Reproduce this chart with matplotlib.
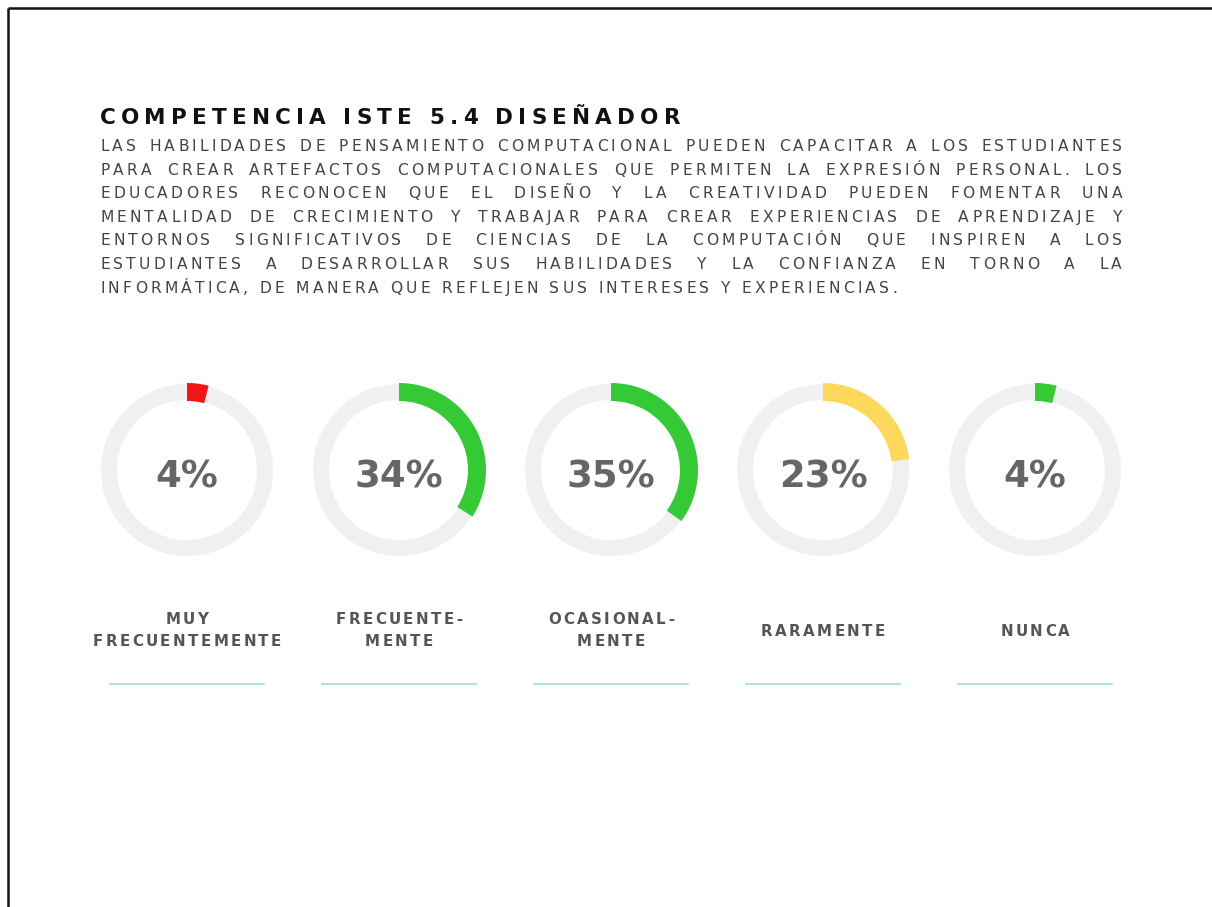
import numpy as np
import matplotlib
matplotlib.use("Agg")
import matplotlib.pyplot as plt
from matplotlib.patches import Wedge
from matplotlib.font_manager import FontProperties

# canvas size in pixels (dpi 100)
W, H = 1212, 907

title = "COMPETENCIA ISTE 5.4 DISEÑADOR"
body_lines = [
    "LAS HABILIDADES DE PENSAMIENTO COMPUTACIONAL PUEDEN CAPACITAR A LOS ESTUDIANTES",
    "PARA CREAR ARTEFACTOS COMPUTACIONALES QUE PERMITEN LA EXPRESIÓN PERSONAL. LOS",
    "EDUCADORES RECONOCEN QUE EL DISEÑO Y LA CREATIVIDAD PUEDEN FOMENTAR UNA",
    "MENTALIDAD DE CRECIMIENTO Y TRABAJAR PARA CREAR EXPERIENCIAS DE APRENDIZAJE Y",
    "ENTORNOS SIGNIFICATIVOS DE CIENCIAS DE LA COMPUTACIÓN QUE INSPIREN A LOS",
    "ESTUDIANTES A DESARROLLAR SUS HABILIDADES Y LA CONFIANZA EN TORNO A LA",
    "INFORMÁTICA, DE MANERA QUE REFLEJEN SUS INTERESES Y EXPERIENCIAS.",
]
categories = ["MUY\nFRECUENTEMENTE", "FRECUENTE-\nMENTE", "OCASIONAL-\nMENTE", "RARAMENTE", "NUNCA"]
percentages = [4, 34, 35, 23, 4]
arc_colors = ["#f01616", "#36c936", "#36c936", "#fcd95c", "#36c936"]

fig = plt.figure(figsize=(W / 100, H / 100), dpi=100)
ax = fig.add_axes([0, 0, 1, 1])
ax.set_xlim(0, W)
ax.set_ylim(H, 0)
ax.axis("off")
renderer = fig.canvas.get_renderer()


def font(size_px, weight="normal", family="DejaVu Sans"):
    return FontProperties(family=family, weight=weight, size=size_px * 72 / 100)


def ink(s, fp):
    return renderer.get_text_width_height_descent(s, fp, ismath=False)[0]


# advance widths: measure the char between two H's
def widths(s, fp):
    base = ink("HH", fp)
    return [ink("H" + ch + "H", fp) - base for ch in s]


def line_width(s, fp, tracking, extra=0.0):
    return sum(widths(s, fp)) + tracking * (len(s) - 1) + extra * s.count(" ")


# letter-spaced text, drawn char by char
def draw_tracked(x, y, s, fp, tracking, color, align="left", extra=0.0):
    w = widths(s, fp)
    total = line_width(s, fp, tracking, extra)
    if align == "center":
        x = x - total / 2
    for ch, cw in zip(s, w):
        if ch != " ":
            ax.text(x, y, ch, fontproperties=fp, color=color, ha="left", va="baseline")
        x += cw + tracking + (extra if ch == " " else 0)


def fit_tracking(s, fp, target):
    return (target - sum(widths(s, fp))) / (len(s) - 1)


# page frame (top and left edges only)
ax.plot([7.5, W], [7.5, 7.5], color="#111111", lw=1.8, solid_capstyle="butt")
ax.plot([7.5, 7.5], [7.5, H], color="#111111", lw=1.8, solid_capstyle="butt")

# title
fp_title = font(21.5, "bold")
draw_tracked(100, 124, title, fp_title, fit_tracking(title, fp_title, 580), "#111111")

# justified paragraph
fp_body = font(15.5)
left, right = 100, 1122
body_track = fit_tracking(body_lines[-1], fp_body, 797)
for i, line in enumerate(body_lines):
    y = 151 + i * 23.6
    if i < len(body_lines) - 1:
        nat = line_width(line, fp_body, body_track)
        extra = (right - left - nat) / line.count(" ")
    else:
        extra = 0.0
    draw_tracked(left, y, line, fp_body, body_track, "#444444", extra=extra)

# donut rings
centers = np.linspace(187, 1035, len(percentages))
cy = 470
r_out, ring_w = 86, 16
fp_pct = font(37, "bold")
fp_lab = font(15, "bold")
for cx, pct, col, cat in zip(centers, percentages, arc_colors, categories):
    ax.add_patch(Wedge((cx, cy), r_out, 0, 360, width=ring_w, color="#f0f0f0", lw=0))
    ax.add_patch(Wedge((cx, cy), r_out + 1, -90, -90 + 360 * pct / 100,
                       width=ring_w + 2, color=col, lw=0))
    ax.text(cx, 487, f"{pct}%", fontproperties=fp_pct, color="#666666",
            ha="center", va="baseline")

    parts = cat.split("\n")
    if len(parts) == 2:
        ys = [624, 646]
    else:
        ys = [636]
    for yy, part in zip(ys, parts):
        draw_tracked(cx, yy, part, fp_lab, 2.4, "#555555", align="center")

    ax.plot([cx - 77, cx + 77], [684, 684], color="#a3dfdb", lw=1.3)

fig.savefig("out.png", dpi=100, facecolor="white")
